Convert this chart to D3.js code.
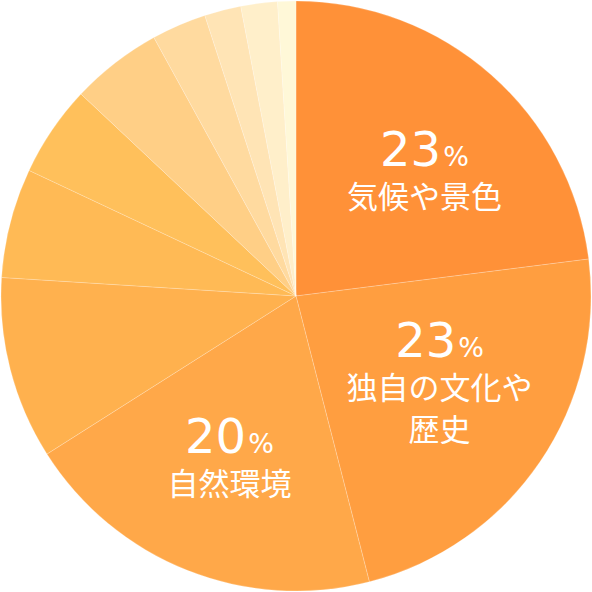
<!DOCTYPE html>
<html>
<head>
<meta charset="utf-8">
<script src="https://cdn.jsdelivr.net/npm/d3@7"></script>
<style>
  html, body { margin: 0; padding: 0; background: #fff; }
  svg { display: block; }
</style>
</head>
<body>
<div class="display-svg"></div>
<script>
// shares (%), clockwise from 12 o'clock
const categories = ["気候や景色", "独自の文化や\n歴史", "自然環境", "c4", "c5", "c6", "c7", "c8", "c9", "c10", "c11"];
const values = [23, 23, 20, 10, 6, 5, 5, 3, 2, 2, 1];
const colors = ["#ff9138", "#ff9e40", "#ffa849", "#ffb14e", "#ffba55", "#ffc05b",
                "#ffcf86", "#ffda9f", "#ffe4b5", "#ffefca", "#fff8d8"];
const labelled = [0, 1, 2];
// nudges from the arc centroid for the three labels
const nudges = [[16, -2], [3, -35], [-4, -1]];

const width = 592, height = 592,
    cx = 296, cy = 296,
    radius = 295;

const svg = d3.select(".display-svg")
  .append("svg")
  .attr("width", width)
  .attr("height", height);

const g = svg.append("g")
  .attr("transform", `translate(${cx},${cy})`);

const pie = d3.pie()
  .value(d => d)
  .sort(null);

const arc = d3.arc()
  .innerRadius(0)
  .outerRadius(radius);

const labelArc = d3.arc()
  .innerRadius(170)
  .outerRadius(170);

const arcs = pie(values);

g.selectAll("path")
  .data(arcs)
  .enter()
  .append("path")
  .attr("d", arc)
  .attr("fill", (d, i) => colors[i])
  .attr("stroke", "rgba(255,255,255,0.3)")
  .attr("stroke-width", 0.7);

// labels for the three largest slices
labelled.forEach((i, k) => {
  const c = labelArc.centroid(arcs[i]);
  const x = c[0] + nudges[k][0],
      y = c[1] + nudges[k][1];

  const num = g.append("text")
    .attr("x", x)
    .attr("y", y)
    .attr("text-anchor", "middle")
    .attr("fill", "#fff")
    .style("font-family", "'DejaVu Sans', sans-serif");
  num.append("tspan")
    .style("font-size", "48px")
    .text(values[i]);
  num.append("tspan")
    .style("font-size", "27px")
    .attr("dx", 2)
    .text("%");

  categories[i].split("\n").forEach((line, j) => {
    g.append("text")
      .attr("x", x)
      .attr("y", y + 42 + j * 42)
      .attr("text-anchor", "middle")
      .attr("fill", "#fff")
      .style("font-family", "'Noto Sans CJK JP', sans-serif")
      .style("font-size", "31px")
      .text(line);
  });
});
</script>
</body>
</html>
